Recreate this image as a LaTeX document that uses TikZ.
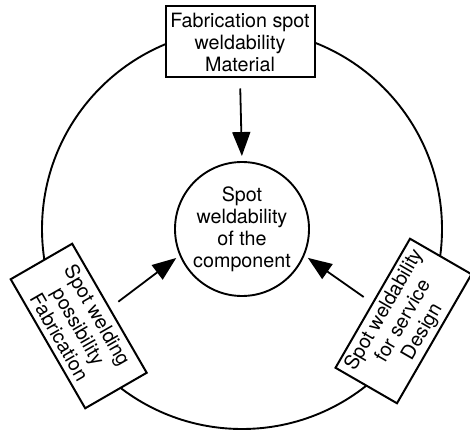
\documentclass[tikz,border=0pt]{standalone}
\usepackage{fontspec}
\setmainfont{TeX Gyre Heros}
\usetikzlibrary{arrows.meta}
\begin{document}
\begin{tikzpicture}[x=1pt,y=1pt,
  lbl/.style={font=\fontsize{19.7}{22}\selectfont, align=center},
  boxnode/.style={lbl, draw, line width=2pt, fill=white, minimum width=149pt, minimum height=71pt, inner sep=2pt},
  arr/.style={line width=1.8pt, -{Triangle[length=24pt,width=18pt]}}]
\useasboundingbox (0,0) rectangle (470,431);
\node[draw, circle, line width=1.9pt, minimum size=400pt, inner sep=0pt] (outer) at (242,202) {};
\node[lbl, draw, circle, line width=1.9pt, minimum size=134pt, inner sep=0pt] (c) at (242,202) {Spot\\weldability\\of the\\component};
\node[boxnode] (tb) at (240,389) {Fabrication spot\\weldability\\Material};
\node[boxnode, rotate=-60] (lb) at (78.7,105) {Spot welding\\possibility\\Fabrication};
\node[boxnode, rotate=60] (rb) at (403.5,110) {Spot weldability\\for service\\Design};
\draw[arr, shorten <=10pt, shorten >=5pt] (tb.south) -- (c.north);
\draw[arr, shorten <=10pt, shorten >=4pt] (lb.north) -- (c.203);
\draw[arr, shorten <=10pt, shorten >=4pt] (rb.north) -- (c.337);
\end{tikzpicture}
\end{document}
